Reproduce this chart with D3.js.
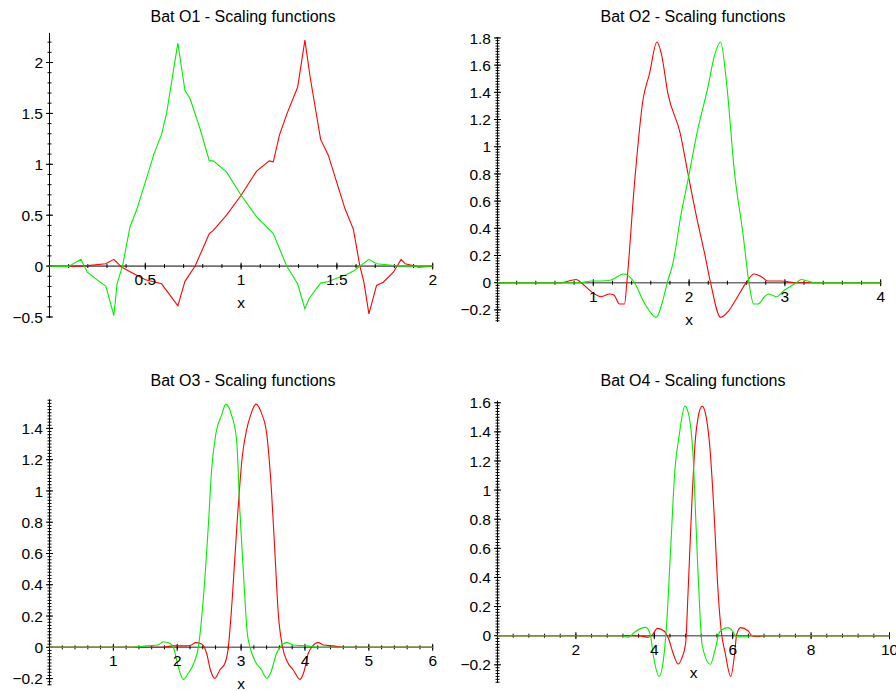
<!DOCTYPE html>
<html>
<head>
<meta charset="utf-8">
<style>
  body { margin: 0; background: #fff; }
  text { font-family: "Liberation Sans", Arial, sans-serif; fill: #000; }
</style>
</head>
<body>
<svg id="chart" width="896" height="691"></svg>
<script src="https://cdn.jsdelivr.net/npm/d3@7/dist/d3.min.js"></script>
<script>
// values, [x, y]
var o1Green = [[0,0],[0.1,-0.003],[0.164,0.066],[0.197,-0.06],[0.28,-0.18],[0.294,-0.197],[0.336,-0.486],[0.353,-0.17],[0.381,0],[0.42,0.384],[0.454,0.548],[0.501,0.83],[0.545,1.10],[0.585,1.294],[0.611,1.50],[0.646,1.91],[0.670,2.19],[0.707,1.724],[0.733,1.649],[0.785,1.353],[0.834,1.034],[0.855,1.034],[0.924,0.926],[1.0,0.696],[1.081,0.483],[1.168,0.319],[1.238,0],[1.295,-0.174],[1.333,-0.42],[1.356,-0.315],[1.415,-0.167],[1.455,-0.151],[1.551,-0.082],[1.586,-0.049],[1.62,0],[1.667,0.066],[1.707,0.023],[1.76,0.013],[1.83,0],[2,0]];
var o1Red = [[0,0],[0.1,-0.003],[0.2,0.005],[0.294,0.023],[0.336,0.066],[0.376,-0.01],[0.425,-0.06],[0.501,-0.135],[0.585,-0.174],[0.67,-0.39],[0.707,-0.15],[0.76,0],[0.834,0.319],[0.855,0.351],[0.924,0.5],[1.0,0.696],[1.081,0.933],[1.147,1.034],[1.168,1.025],[1.2,1.287],[1.24,1.5],[1.295,1.757],[1.333,2.22],[1.36,1.86],[1.415,1.245],[1.455,1.09],[1.542,0.565],[1.586,0.361],[1.62,0],[1.641,-0.158],[1.667,-0.47],[1.707,-0.19],[1.742,-0.158],[1.795,-0.06],[1.835,0.066],[1.856,0.023],[1.908,0],[1.925,-0.01],[2,0]];

var o2Red = [[0,0],[0.665,0],[0.82,0.024],[0.874,0],[0.98,-0.066],[1.083,-0.103],[1.17,-0.083],[1.215,-0.09],[1.274,-0.157],[1.326,-0.157],[1.35,0],[1.43,0.73],[1.518,1.342],[1.587,1.538],[1.664,1.77],[1.71,1.685],[1.779,1.39],[1.908,1.097],[1.988,0.803],[2.085,0.46],[2.162,0.215],[2.224,0],[2.329,-0.255],[2.406,-0.213],[2.475,-0.14],[2.597,0],[2.677,0.064],[2.754,0.044],[2.823,0.012],[2.963,0.012],[3.1,0],[4,0]];
var o2Green = [[0,0],[0.874,0],[0.98,0.012],[1.083,0.012],[1.187,0.02],[1.316,0.064],[1.396,0.032],[1.43,0],[1.535,-0.152],[1.657,-0.255],[1.727,-0.127],[1.772,0],[1.831,0.142],[1.918,0.51],[1.988,0.754],[2.085,1.11],[2.197,1.44],[2.266,1.673],[2.329,1.77],[2.388,1.49],[2.475,0.803],[2.562,0.362],[2.625,0],[2.674,-0.157],[2.719,-0.157],[2.788,-0.103],[2.83,-0.083],[2.91,-0.103],[2.997,-0.054],[3.12,0],[3.171,0.024],[3.24,0.012],[3.31,0],[4,0]];

var o3Green = [[0,0],[1.31,0],[1.52,0.009],[1.70,0.015],[1.78,0.036],[1.885,0.026],[1.94,0],[2.016,-0.124],[2.094,-0.205],[2.172,-0.166],[2.26,-0.102],[2.33,0],[2.407,0.303],[2.486,0.771],[2.538,1.134],[2.606,1.368],[2.694,1.485],[2.762,1.555],[2.851,1.485],[2.93,1.325],[2.98,0.878],[3.034,0.494],[3.097,0.09],[3.14,0],[3.232,-0.098],[3.32,-0.145],[3.40,-0.198],[3.46,-0.166],[3.556,-0.038],[3.608,0],[3.713,0.03],[3.817,0.015],[4.026,0.009],[4.23,0],[6,0]];
var o3Red = [[0,0],[1.75,0],[1.94,0.009],[2.146,0.009],[2.22,0.015],[2.29,0.03],[2.38,0.021],[2.46,-0.038],[2.52,-0.145],[2.59,-0.198],[2.668,-0.145],[2.747,-0.102],[2.8,0],[2.86,0.303],[2.94,0.814],[3.018,1.219],[3.086,1.39],[3.149,1.485],[3.232,1.555],[3.32,1.496],[3.40,1.368],[3.478,0.984],[3.53,0.601],[3.582,0.217],[3.65,0],[3.723,-0.092],[3.817,-0.145],[3.922,-0.205],[3.984,-0.156],[4.052,-0.038],[4.104,0],[4.209,0.03],[4.287,0.015],[4.44,0.009],[4.6,0],[6,0]];

var o4Green = [[0,0],[3.17,0],[3.34,-0.011],[3.51,0.027],[3.78,0.057],[3.89,0.016],[3.98,-0.144],[4.12,-0.28],[4.22,-0.19],[4.31,0.062],[4.42,0.611],[4.525,1.138],[4.63,1.366],[4.78,1.577],[4.88,1.515],[4.99,1.23],[5.08,0.657],[5.16,0.176],[5.22,-0.064],[5.43,-0.196],[5.55,-0.098],[5.67,0.027],[5.88,0.055],[6.01,0.027],[6.09,-0.007],[6.26,-0.007],[6.47,0],[10,0]];
var o4Red = [[0,0],[3.4,0],[3.64,-0.002],[3.85,-0.011],[3.95,0.005],[4.08,0.05],[4.25,0.032],[4.36,-0.018],[4.48,-0.121],[4.61,-0.195],[4.7,-0.156],[4.8,-0.053],[4.86,0.29],[4.95,0.863],[5.05,1.355],[5.12,1.504],[5.22,1.577],[5.33,1.492],[5.43,1.252],[5.52,0.863],[5.63,0.29],[5.71,0.027],[5.81,-0.121],[5.95,-0.28],[6.05,-0.121],[6.1,0.005],[6.2,0.055],[6.39,0.034],[6.5,-0.002],[6.64,-0.007],[6.77,0],[10,0]];

var titles = ['Bat O1 - Scaling functions', 'Bat O2 - Scaling functions', 'Bat O3 - Scaling functions', 'Bat O4 - Scaling functions'];
var o1XTicks = [0.5, 1, 1.5, 2], o1YTicks = [-0.5, 0, 0.5, 1, 1.5, 2];
var o2XTicks = [1, 2, 3, 4], o2YTicks = [-0.2, 0, 0.2, 0.4, 0.6, 0.8, 1, 1.2, 1.4, 1.6, 1.8];
var o3XTicks = [1, 2, 3, 4, 5, 6], o3YTicks = [-0.2, 0, 0.2, 0.4, 0.6, 0.8, 1, 1.2, 1.4];
var o4XTicks = [2, 4, 6, 8, 10], o4YTicks = [-0.2, 0, 0.2, 0.4, 0.6, 0.8, 1, 1.2, 1.4, 1.6];

var panels = [
  {title: titles[0], red: o1Red, green: o1Green, xt: o1XTicks, yt: o1YTicks, xDom: [0, 2], yDom: [-0.51, 2.29],
   left: 49.5, right: 432.7, top: 33, bottom: 318, xMinor: 0.1, yMinor: 0.1, tx: 243, ty: 22, curve: d3.curveLinear},
  {title: titles[1], red: o2Red, green: o2Green, xt: o2XTicks, yt: o2YTicks, xDom: [0, 4], yDom: [-0.289, 1.807],
   left: 497.5, right: 880.7, top: 37, bottom: 322, xMinor: 0.2, yMinor: 0.02, tx: 693, ty: 22, curve: d3.curveMonotoneX},
  {title: titles[2], red: o3Red, green: o3Green, xt: o3XTicks, yt: o3YTicks, xDom: [0, 6], yDom: [-0.241, 1.586],
   left: 49.5, right: 432.7, top: 399.3, bottom: 685, xMinor: 0.2, yMinor: 0.02, tx: 243, ty: 386, curve: d3.curveMonotoneX},
  {title: titles[3], red: o4Red, green: o4Green, xt: o4XTicks, yt: o4YTicks, xDom: [0, 10], yDom: [-0.323, 1.614],
   left: 497.5, right: 889.5, top: 400.7, bottom: 682.7, xMinor: 0.4, yMinor: 0.02, tx: 693, ty: 386, curve: d3.curveMonotoneX}
];

var svg = d3.select('#chart');

function fmt(v) {
  var s = String(+Math.abs(v).toFixed(3));
  return (v < 0 ? '\u2212' : '') + s;
}

function steps(lo, hi, step) {
  return d3.range(Math.ceil(lo / step - 1e-9), Math.floor(hi / step + 1e-9) + 1)
    .map(function(i) { return +(i * step).toFixed(6); });
}

panels.forEach(function(p) {
  var x = d3.scaleLinear().domain(p.xDom).range([p.left, p.right]);
  var y = d3.scaleLinear().domain(p.yDom).range([p.bottom, p.top]);
  var g = svg.append('g');
  var y0 = y(0), x0 = x(0);

  // axes
  g.append('line').attr('x1', x0).attr('x2', p.right).attr('y1', y0).attr('y2', y0)
    .attr('stroke', '#707070').attr('stroke-width', 1.6);
  g.append('line').attr('x1', x0).attr('x2', x0).attr('y1', p.top).attr('y2', p.bottom)
    .attr('stroke', '#000').attr('stroke-width', 1);

  // minor ticks
  g.selectAll('.xmin').data(steps(p.xDom[0], p.xDom[1], p.xMinor).filter(function(d){ return d > 0; }))
    .enter().append('line')
    .attr('x1', function(d){ return x(d); }).attr('x2', function(d){ return x(d); })
    .attr('y1', y0 - 2).attr('y2', y0 + 2).attr('stroke', '#000').attr('stroke-width', 1);
  g.selectAll('.ymin').data(steps(p.yDom[0], p.yDom[1], p.yMinor))
    .enter().append('line')
    .attr('x1', x0 - 2).attr('x2', x0 + 2)
    .attr('y1', function(d){ return y(d); }).attr('y2', function(d){ return y(d); })
    .attr('stroke', '#000').attr('stroke-width', 1);

  // major ticks
  g.selectAll('.xmaj').data(p.xt).enter().append('line')
    .attr('x1', function(d){ return x(d); }).attr('x2', function(d){ return x(d); })
    .attr('y1', y0 - 3.5).attr('y2', y0 + 3.5).attr('stroke', '#000');
  g.selectAll('.ymaj').data(p.yt).enter().append('line')
    .attr('x1', x0 - 3.5).attr('x2', x0 + 3.5)
    .attr('y1', function(d){ return y(d); }).attr('y2', function(d){ return y(d); })
    .attr('stroke', '#000');

  // curves
  var line = d3.line().x(function(d){ return x(d[0]); }).y(function(d){ return y(d[1]); }).curve(p.curve);
  g.append('path').attr('d', line(p.red)).attr('fill', 'none').attr('stroke', '#ff0000').attr('stroke-width', 1.1);
  g.append('path').attr('d', line(p.green)).attr('fill', 'none').attr('stroke', '#00ee00').attr('stroke-width', 1.1);

  // labels
  g.selectAll('.xl').data(p.xt).enter().append('text')
    .attr('x', function(d){ return x(d); }).attr('y', y0 + 19)
    .attr('text-anchor', 'middle').style('font-size', '15.5px').text(fmt);
  g.selectAll('.yl').data(p.yt).enter().append('text')
    .attr('x', x0 - 6.5).attr('y', function(d){ return y(d); }).attr('dy', '0.36em')
    .attr('text-anchor', 'end').style('font-size', '15.5px').text(fmt);

  g.append('text').attr('x', (p.left + p.right) / 2).attr('y', y0 + 42)
    .attr('text-anchor', 'middle').style('font-size', '15.5px').text('x');
  g.append('text').attr('x', p.tx).attr('y', p.ty)
    .attr('text-anchor', 'middle').style('font-size', '16px').text(p.title);
});
</script>
</body>
</html>
